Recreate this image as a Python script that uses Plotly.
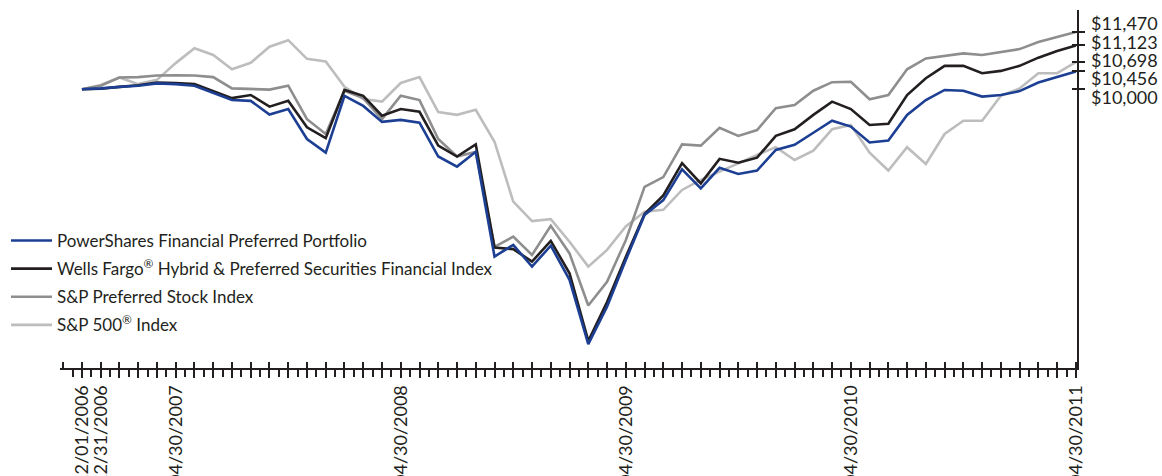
import plotly.graph_objects as go
import pandas as pd

# ---------------- data ----------------
try:
    month_ends = pd.date_range("2006-12-31", "2011-04-30", freq="ME")
except Exception:
    month_ends = pd.date_range("2006-12-31", "2011-04-30", freq="M")
dates = ["12/01/2006"] + [d.strftime("%m/%d/%Y") for d in month_ends]

label_dates = ["12/01/2006", "12/31/2006", "04/30/2007", "04/30/2008",
               "04/30/2009", "04/30/2010", "04/30/2011"]

powershares = [10000, 10020, 10060, 10090, 10150, 10130, 10090, 9910, 9720, 9700,
               9350, 9490, 8720, 8370, 9830, 9570, 9160, 9210, 9140, 8270,
               8010, 8390, 5700, 6000, 5440, 5980, 5100, 3450, 4410, 5610,
               6770, 7150, 7940, 7450, 7980, 7820, 7910, 8440, 8570, 8880,
               9190, 9040, 8630, 8680, 9340, 9720, 9980, 9960, 9810, 9850,
               9950, 10170, 10320, 10456]
wells_fargo = [10000, 10010, 10060, 10100, 10170, 10160, 10130, 9960, 9770, 9850,
               9550, 9700, 9020, 8740, 9980, 9830, 9320, 9490, 9420, 8550,
               8270, 8580, 5930, 5890, 5570, 6100, 5270, 3530, 4530, 5690,
               6790, 7270, 8100, 7580, 8210, 8110, 8240, 8800, 8970, 9340,
               9680, 9490, 9080, 9110, 9850, 10280, 10600, 10600, 10410, 10470,
               10600, 10810, 10980, 11123]
sp_preferred = [10000, 10090, 10300, 10310, 10350, 10360, 10350, 10310, 10020, 10000,
                9990, 10090, 9230, 8850, 9960, 9770, 9230, 9830, 9720, 8720,
                8270, 8390, 5950, 6210, 5740, 6490, 5780, 4440, 5050, 6120,
                7490, 7740, 8580, 8550, 9010, 8800, 8950, 9510, 9590, 9960,
                10180, 10190, 9740, 9850, 10510, 10790, 10860, 10920, 10880, 10950,
                11030, 11210, 11330, 11470]
sp500 = [10000, 10110, 10300, 10130, 10240, 10670, 11050, 10880, 10510, 10680,
         11090, 11260, 10780, 10710, 10060, 9750, 9680, 10160, 10310, 9410,
         9340, 9470, 8650, 7110, 6610, 6660, 6080, 5440, 5870, 6470,
         6850, 6900, 7410, 7670, 7880, 8100, 8310, 8510, 8180, 8420,
         8970, 9080, 8370, 7910, 8510, 8080, 8850, 9190, 9190, 9830,
         10020, 10410, 10410, 10698]

series_names = ["PowerShares Financial Preferred Portfolio",
                "Wells Fargo<sup>®</sup> Hybrid & Preferred Securities Financial Index",
                "S&P Preferred Stock Index",
                "S&P 500<sup>®</sup> Index"]
series_values = [powershares, wells_fargo, sp_preferred, sp500]
series_colors = ["#1c3f94", "#231f20", "#8e8e8e", "#bdbdbd"]

end_values = [11470, 11123, 10698, 10456, 10000]
end_labels = ["$11,470", "$11,123", "$10,698", "$10,456", "$10,000"]
label_shift = [9, 3, 2, -7, -8]

# ---------------- figure ----------------
FONT = "Lato"
AX = "#231f20"
W, H = 1162, 476
n = len(dates)
xr = [-1.17, n - 1 + 0.06]
yr = [2835, 12035]

fig = go.Figure()
entries = list(enumerate(zip(series_names, series_values, series_colors)))
for rank, (name, vals, col) in reversed(entries):
    fig.add_trace(go.Scatter(x=dates, y=vals, name=name, mode="lines",
                             line=dict(color=col, width=2.6), legendgroup=name,
                             legendrank=rank + 1))

# helper overlay trace for the cross-tick axes
fig.add_trace(go.Scatter(x=list(range(n)), y=powershares, xaxis="x2", yaxis="y2",
                         mode="lines", line=dict(width=0), opacity=0,
                         showlegend=False, hoverinfo="skip"))

ticktext = [d if d in label_dates else "" for d in dates]

fig.update_layout(
    width=W, height=H,
    margin=dict(l=60, r=85, t=10, b=108, autoexpand=False),
    paper_bgcolor="white", plot_bgcolor="white",
    font=dict(family=FONT, color=AX, size=17),
    showlegend=True,
    legend=dict(traceorder="grouped", xref="container", yref="container",
                x=6 / W, y=1 - 223 / H, xanchor="left", yanchor="top",
                font=dict(family=FONT, size=17, color=AX),
                bgcolor="rgba(0,0,0,0)", tracegroupgap=3, itemwidth=41),
    xaxis=dict(type="category", range=xr, tickmode="array", tickvals=dates,
               ticktext=ticktext, tickangle=-90, ticks="outside", ticklen=8,
               tickwidth=2, tickcolor=AX, showline=True, linecolor=AX, linewidth=2,
               showgrid=False, zeroline=False, ticklabelstandoff=0,
               tickfont=dict(family=FONT, size=18, color=AX), automargin=False),
    xaxis2=dict(overlaying="x", anchor="y2", range=xr, tickmode="linear", tick0=0,
                dtick=1, ticks="inside", ticklen=6, tickwidth=2, tickcolor=AX,
                showticklabels=False, showgrid=False, zeroline=False, showline=False,
                minor=dict(tick0=0.5, dtick=1, ticks="outside", ticklen=8,
                           tickwidth=2, tickcolor=AX, showgrid=False)),
    yaxis=dict(side="right", range=yr, tickmode="array", tickvals=end_values,
               showticklabels=False, ticks="outside", ticklen=6, tickwidth=2,
               tickcolor=AX, showline=True, linecolor=AX, linewidth=2,
               showgrid=False, zeroline=False, automargin=False),
    yaxis2=dict(overlaying="y", anchor="x2", side="right", range=yr, tickmode="array",
                tickvals=end_values, showticklabels=False, ticks="inside", ticklen=5,
                tickwidth=2, tickcolor=AX, showgrid=False, zeroline=False,
                showline=False),
)

for v, t, s in zip(end_values, end_labels, label_shift):
    fig.add_annotation(x=1, xref="paper", y=v, yref="y", text=t, showarrow=False,
                       xanchor="left", yanchor="middle", xshift=12, yshift=s,
                       font=dict(family=FONT, size=18, color=AX))

fig.write_html("out.html",
               config={"displayModeBar": False},
               post_script="document.body.style.margin='0';"
                           "document.body.style.overflow='hidden';")
